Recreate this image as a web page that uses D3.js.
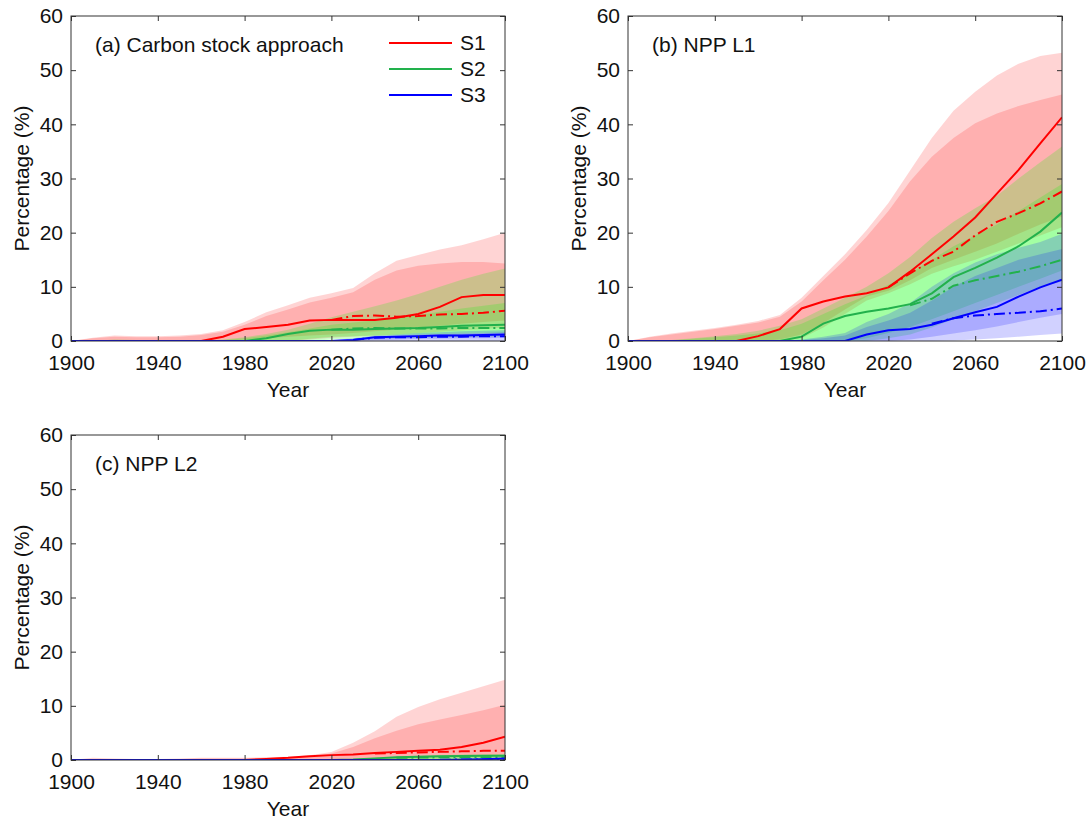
<!DOCTYPE html>
<html>
<head>
<meta charset="utf-8">
<script src="https://cdn.jsdelivr.net/npm/d3@7"></script>
<style>
  body { margin: 0; background: #fff; }
  svg text { font-family: "Liberation Sans", Arial, sans-serif; fill: #111; }
</style>
</head>
<body>
<svg id="chart" width="1091" height="820"></svg>
<script>
// years sampled every 10 years
const years = [1900, 1910, 1920, 1930, 1940, 1950, 1960, 1970, 1980, 1990, 2000,
               2010, 2020, 2030, 2040, 2050, 2060, 2070, 2080, 2090, 2100];
const xTicks = [1900, 1940, 1980, 2020, 2060, 2100];
const yTicks = [0, 10, 20, 30, 40, 50, 60];
const scenarioNames = ["S1", "S2", "S3"];

// (a) carbon stock approach
const aS1      = [0, 0, 0, 0, 0, 0, 0, 0.8, 2.2, 2.6, 3.0, 3.8, 3.9, 3.9, 3.9, 4.3, 5.0, 6.3, 8.1, 8.5, 8.5];
const aS1Dash  = [null, null, null, null, null, null, null, null, null, null, null, null, 3.9, 4.6, 4.7, 4.5, 4.6, 4.9, 5.0, 5.2, 5.6];
const aS1OutHi = [0, 0.6, 1.0, 0.9, 0.9, 1.0, 1.3, 2.0, 3.5, 5.3, 6.6, 8.0, 8.8, 9.8, 12.5, 14.8, 15.9, 16.9, 17.7, 18.8, 20.0];
const aS1InHi  = [0, 0.5, 0.8, 0.7, 0.7, 0.8, 1.1, 1.7, 3.0, 4.6, 5.8, 7.1, 8.0, 9.0, 11.3, 13.0, 13.9, 14.3, 14.6, 14.6, 14.3];
const aS1OutLo = [0, 0, 0, 0, 0, 0, 0, 0, 0, 0, 0, 0.3, 0.6, 0.8, 1.0, 1.2, 1.5, 1.7, 2.0, 2.2, 2.5];
const aS1InLo  = [0, 0, 0, 0, 0, 0, 0, 0, 0.3, 0.5, 0.8, 1.0, 1.2, 1.5, 1.8, 2.1, 2.5, 2.8, 3.2, 3.5, 3.8];
const aS2      = [0, 0, 0, 0, 0, 0, 0, 0, 0, 0.5, 1.3, 1.9, 2.1, 2.1, 2.2, 2.3, 2.4, 2.6, 2.8, 2.9, 3.0];
const aS2Dash  = [null, null, null, null, null, null, null, null, null, null, null, null, 2.1, 2.3, 2.4, 2.3, 2.3, 2.3, 2.4, 2.4, 2.4];
const aS2OutHi = [0, 0, 0.3, 0.2, 0, 0, 0.1, 0.3, 0.7, 1.3, 2.1, 3.2, 4.4, 5.4, 6.4, 7.5, 8.7, 10.0, 11.3, 12.4, 13.4];
const aS2InHi  = [0, 0, 0.2, 0.1, 0, 0, 0, 0.2, 0.5, 1.0, 1.6, 2.3, 3.0, 3.4, 3.8, 4.3, 4.8, 5.4, 6.0, 6.5, 7.0];
const aS2OutLo = [0, 0, 0, 0, 0, 0, 0, 0, 0, 0, 0, 0, 0.3, 0.4, 0.5, 0.5, 0.6, 0.7, 0.7, 0.8, 0.8];
const aS2InLo  = [0, 0, 0, 0, 0, 0, 0, 0, 0, 0, 0, 0.4, 0.8, 0.9, 1.0, 1.1, 1.2, 1.3, 1.4, 1.5, 1.5];
const aS3      = [0, 0, 0, 0, 0, 0, 0, 0, 0, 0, 0, 0, 0, 0.2, 0.7, 0.8, 0.9, 1.0, 1.0, 1.1, 1.2];
const aS3Dash  = [null, null, null, null, null, null, null, null, null, null, null, null, null, 0.2, 0.6, 0.7, 0.7, 0.8, 0.8, 0.9, 0.9];
const aS3OutHi = [0, 0, 0, 0, 0, 0, 0, 0, 0, 0, 0, 0, 0.2, 0.5, 1.0, 1.2, 1.5, 1.6, 1.8, 1.9, 2.0];
const aS3InHi  = [0, 0, 0, 0, 0, 0, 0, 0, 0, 0, 0, 0, 0.1, 0.4, 0.8, 1.0, 1.2, 1.3, 1.4, 1.5, 1.6];
const aS3OutLo = [0, 0, 0, 0, 0, 0, 0, 0, 0, 0, 0, 0, 0, 0, 0, 0, 0, 0, 0, 0, 0];
const aS3InLo  = [0, 0, 0, 0, 0, 0, 0, 0, 0, 0, 0, 0, 0, 0, 0.2, 0.3, 0.4, 0.4, 0.5, 0.5, 0.6];

// (b) NPP L1
const bS1      = [0, 0, 0, 0, 0, 0, 0.9, 2.2, 6.0, 7.3, 8.2, 8.8, 9.9, 12.8, 16.0, 19.3, 22.8, 27.2, 31.6, 36.5, 41.3];
const bS1Dash  = [null, null, null, null, null, null, null, null, null, null, null, null, 9.9, 12.5, 14.8, 16.5, 19.5, 22.0, 23.6, 25.4, 27.6];
const bS1OutHi = [0, 0.8, 1.4, 1.9, 2.4, 3.0, 3.7, 4.8, 8.0, 12.0, 16.0, 20.5, 25.5, 31.5, 37.5, 42.5, 46.0, 49.0, 51.2, 52.6, 53.2];
const bS1InHi  = [0, 0.7, 1.2, 1.7, 2.2, 2.8, 3.4, 4.5, 7.3, 11.2, 15.0, 19.3, 24.0, 29.5, 34.0, 37.5, 40.2, 42.0, 43.4, 44.5, 45.5];
const bS1OutLo = [0, 0, 0, 0, 0, 0, 0, 0, 0.5, 2.5, 5.0, 7.5, 8.8, 10.5, 12.4, 13.8, 15.0, 16.5, 18.0, 19.5, 21.0];
const bS1InLo  = [0, 0, 0, 0, 0, 0, 0, 0.3, 1.2, 3.3, 5.8, 8.2, 9.3, 11.2, 13.5, 15.0, 16.5, 18.0, 19.8, 21.5, 23.0];
const bS2      = [0, 0, 0, 0, 0, 0, 0, 0, 0.8, 3.2, 4.6, 5.4, 6.0, 6.8, 8.8, 11.8, 13.5, 15.4, 17.5, 20.2, 23.7];
const bS2Dash  = [null, null, null, null, null, null, null, null, null, null, null, null, null, 6.6, 7.8, 10.2, 11.2, 12.0, 12.8, 13.8, 15.0];
const bS2OutHi = [0, 0, 0.2, 0.5, 0.9, 1.3, 1.9, 2.8, 4.0, 6.0, 8.0, 10.0, 12.5, 15.5, 19.0, 22.0, 24.5, 26.8, 30.0, 33.0, 35.9];
const bS2InHi  = [0, 0, 0.1, 0.4, 0.7, 1.0, 1.4, 2.0, 3.2, 5.0, 6.8, 8.4, 10.4, 12.5, 15.0, 17.5, 19.5, 21.5, 24.0, 26.5, 29.0];
const bS2OutLo = [0, 0, 0, 0, 0, 0, 0, 0, 0, 0, 0, 0, 0.5, 1.2, 2.5, 4.0, 5.5, 7.0, 8.5, 10.0, 11.0];
const bS2InLo  = [0, 0, 0, 0, 0, 0, 0, 0, 0, 0, 0, 0.5, 1.5, 2.6, 4.0, 5.5, 7.0, 8.5, 10.0, 11.5, 13.0];
const bS3      = [0, 0, 0, 0, 0, 0, 0, 0, 0, 0, 0, 1.2, 2.0, 2.2, 3.0, 4.2, 5.3, 6.3, 8.2, 9.9, 11.3];
const bS3Dash  = [null, null, null, null, null, null, null, null, null, null, null, null, null, null, 3.2, 4.2, 4.7, 5.0, 5.2, 5.5, 6.0];
const bS3OutHi = [0, 0, 0, 0, 0, 0, 0, 0, 0.3, 0.8, 1.5, 3.5, 5.0, 7.0, 10.0, 12.5, 14.5, 16.0, 17.2, 18.3, 19.8];
const bS3InHi  = [0, 0, 0, 0, 0, 0, 0, 0, 0.2, 0.5, 1.0, 2.6, 3.8, 5.2, 7.5, 10.0, 12.0, 13.5, 15.0, 16.0, 17.0];
const bS3OutLo = [0, 0, 0, 0, 0, 0, 0, 0, 0, 0, 0, 0, 0, 0, 0, 0.1, 0.3, 0.5, 0.8, 1.1, 1.4];
const bS3InLo  = [0, 0, 0, 0, 0, 0, 0, 0, 0, 0, 0, 0, 0, 0.3, 0.8, 1.4, 2.0, 2.7, 3.5, 4.3, 5.0];

// (c) NPP L2
const cS1      = [0, 0, 0, 0, 0, 0, 0, 0, 0, 0.2, 0.4, 0.7, 0.9, 1.0, 1.3, 1.5, 1.7, 1.9, 2.4, 3.2, 4.3];
const cS1Dash  = [null, null, null, null, null, null, null, null, null, null, null, null, null, null, 1.2, 1.3, 1.4, 1.5, 1.6, 1.7, 1.7];
const cS1OutHi = [0, 0.4, 0.3, 0.2, 0.2, 0.3, 0.4, 0.4, 0.4, 0.5, 0.6, 0.9, 1.5, 3.2, 5.3, 8.0, 9.8, 11.2, 12.4, 13.6, 14.8];
const cS1InHi  = [0, 0.2, 0.2, 0.1, 0.1, 0.2, 0.3, 0.3, 0.3, 0.4, 0.5, 0.7, 1.2, 2.4, 4.0, 5.4, 6.6, 7.5, 8.3, 9.2, 10.2];
const cS1OutLo = [0, 0, 0, 0, 0, 0, 0, 0, 0, 0, 0, 0, 0, 0, 0, 0, 0, 0, 0, 0, 0];
const cS1InLo  = [0, 0, 0, 0, 0, 0, 0, 0, 0, 0, 0, 0, 0, 0, 0, 0.2, 0.4, 0.5, 0.7, 0.8, 1.0];
const cS2      = [0, 0, 0, 0, 0, 0, 0, 0, 0, 0, 0, 0, 0, 0.1, 0.3, 0.5, 0.6, 0.7, 0.75, 0.8, 0.8];
const cS2Dash  = [null, null, null, null, null, null, null, null, null, null, null, null, null, null, null, 0.4, 0.45, 0.5, 0.5, 0.5, 0.5];
const cS2OutHi = [0, 0, 0, 0, 0, 0, 0, 0, 0, 0, 0, 0, 0.1, 0.2, 0.4, 0.6, 0.8, 0.9, 1.0, 1.0, 1.1];
const cS2InHi  = [0, 0, 0, 0, 0, 0, 0, 0, 0, 0, 0, 0, 0.05, 0.15, 0.35, 0.5, 0.7, 0.8, 0.85, 0.9, 0.95];
const cS2OutLo = [0, 0, 0, 0, 0, 0, 0, 0, 0, 0, 0, 0, 0, 0, 0, 0, 0, 0, 0, 0, 0];
const cS2InLo  = [0, 0, 0, 0, 0, 0, 0, 0, 0, 0, 0, 0, 0, 0, 0, 0, 0, 0, 0, 0, 0];
const cS3      = [0, 0, 0, 0, 0, 0, 0, 0, 0, 0, 0, 0, 0, 0, 0, 0, 0, 0, 0.05, 0.15, 0.3];
const cS3Dash  = [null, null, null, null, null, null, null, null, null, null, null, null, null, null, null, null, null, 0.05, 0.08, 0.1, 0.1];
const cS3OutHi = [0, 0, 0, 0, 0, 0, 0, 0, 0, 0, 0, 0, 0, 0, 0, 0, 0, 0.1, 0.2, 0.3, 0.4];
const cS3InHi  = [0, 0, 0, 0, 0, 0, 0, 0, 0, 0, 0, 0, 0, 0, 0, 0, 0, 0.05, 0.15, 0.25, 0.35];
const cS3OutLo = [0, 0, 0, 0, 0, 0, 0, 0, 0, 0, 0, 0, 0, 0, 0, 0, 0, 0, 0, 0, 0];
const cS3InLo  = [0, 0, 0, 0, 0, 0, 0, 0, 0, 0, 0, 0, 0, 0, 0, 0, 0, 0, 0, 0, 0];

const lineColors = ["#ff0000", "#22b14c", "#0000ff"];
const bandColors = ["#ff0000", "#00ff00", "#0000ff"];
const bandOpacity = [0.17, 0.2, 0.18];

const panels = [
  {title: "(a) Carbon stock approach", left: 71, top: 16, legend: true, series: [
    {mid: aS1, dash: aS1Dash, outLo: aS1OutLo, outHi: aS1OutHi, inLo: aS1InLo, inHi: aS1InHi},
    {mid: aS2, dash: aS2Dash, outLo: aS2OutLo, outHi: aS2OutHi, inLo: aS2InLo, inHi: aS2InHi},
    {mid: aS3, dash: aS3Dash, outLo: aS3OutLo, outHi: aS3OutHi, inLo: aS3InLo, inHi: aS3InHi}]},
  {title: "(b) NPP L1", left: 628, top: 16, legend: false, series: [
    {mid: bS1, dash: bS1Dash, outLo: bS1OutLo, outHi: bS1OutHi, inLo: bS1InLo, inHi: bS1InHi},
    {mid: bS2, dash: bS2Dash, outLo: bS2OutLo, outHi: bS2OutHi, inLo: bS2InLo, inHi: bS2InHi},
    {mid: bS3, dash: bS3Dash, outLo: bS3OutLo, outHi: bS3OutHi, inLo: bS3InLo, inHi: bS3InHi}]},
  {title: "(c) NPP L2", left: 71, top: 435, legend: false, series: [
    {mid: cS1, dash: cS1Dash, outLo: cS1OutLo, outHi: cS1OutHi, inLo: cS1InLo, inHi: cS1InHi},
    {mid: cS2, dash: cS2Dash, outLo: cS2OutLo, outHi: cS2OutHi, inLo: cS2InLo, inHi: cS2InHi},
    {mid: cS3, dash: cS3Dash, outLo: cS3OutLo, outHi: cS3OutHi, inLo: cS3InLo, inHi: cS3InHi}]}
];

const svg = d3.select("#chart");
const width = 434, height = 325;
const fontSize = 21;

function drawPanel(p, i) {
  const g = svg.append("g").attr("transform", `translate(${p.left},${p.top})`);
  const x = d3.scaleLinear().domain([1900, 2100]).range([0, width]);
  const y = d3.scaleLinear().domain([0, 60]).range([height, 0]);

  g.append("clipPath").attr("id", "clip" + i)
    .append("rect").attr("width", width).attr("height", height);
  const plot = g.append("g").attr("clip-path", `url(#clip${i})`);

  // uncertainty bands: outer then inner for each scenario
  p.series.forEach((s, k) => {
    [[s.outLo, s.outHi], [s.inLo, s.inHi]].forEach(([lo, hi]) => {
      const area = d3.area()
        .x((d, j) => x(years[j]))
        .y0((d, j) => y(lo[j]))
        .y1(d => y(d));
      plot.append("path").datum(hi)
        .attr("d", area)
        .attr("fill", bandColors[k])
        .attr("fill-opacity", bandOpacity[k]);
    });
  });

  const line = d3.line()
    .defined(d => d != null)
    .x((d, j) => x(years[j]))
    .y(d => y(d));

  p.series.forEach((s, k) => {
    plot.append("path").datum(s.dash)
      .attr("d", line)
      .attr("fill", "none")
      .attr("stroke", lineColors[k])
      .attr("stroke-width", 2)
      .attr("stroke-dasharray", "11,4,2,4");
    plot.append("path").datum(s.mid)
      .attr("d", line)
      .attr("fill", "none")
      .attr("stroke", lineColors[k])
      .attr("stroke-width", 2);
  });

  // axes with inward ticks on all four sides
  const axes = [
    [d3.axisBottom(x).tickValues(xTicks).tickFormat(d3.format("d")).tickPadding(14), `translate(0,${height})`],
    [d3.axisTop(x).tickValues(xTicks).tickFormat(""), "translate(0,0)"],
    [d3.axisLeft(y).tickValues(yTicks).tickPadding(8), "translate(0,0)"],
    [d3.axisRight(y).tickValues(yTicks).tickFormat(""), `translate(${width},0)`]
  ];
  axes.forEach(([ax, tr]) => {
    const a = g.append("g").attr("transform", tr)
      .call(ax.tickSizeInner(-5).tickSizeOuter(0));
    a.select(".domain").remove();
    a.selectAll("line").attr("stroke", "#333");
    a.selectAll("text")
      .attr("font-size", fontSize)
      .attr("font-family", "Liberation Sans, Arial, sans-serif")
      .attr("fill", "#111");
  });

  g.append("rect")
    .attr("width", width).attr("height", height)
    .attr("fill", "none").attr("stroke", "#333").attr("stroke-width", 1);

  g.append("text")
    .attr("x", 24).attr("y", 36)
    .attr("font-size", fontSize)
    .text(p.title);

  g.append("text")
    .attr("x", width / 2).attr("y", height + 56)
    .attr("text-anchor", "middle")
    .attr("font-size", fontSize)
    .text("Year");

  g.append("text")
    .attr("transform", `translate(-42,${height / 2}) rotate(-90)`)
    .attr("text-anchor", "middle")
    .attr("font-size", fontSize)
    .text("Percentage (%)");

  if (p.legend) {
    const lg = g.append("g").attr("transform", "translate(318,27)");
    scenarioNames.forEach((name, k) => {
      lg.append("line")
        .attr("x1", 0).attr("x2", 63)
        .attr("y1", k * 26).attr("y2", k * 26)
        .attr("stroke", lineColors[k]).attr("stroke-width", 2);
      lg.append("text")
        .attr("x", 71).attr("y", k * 26)
        .attr("dy", "0.35em")
        .attr("font-size", fontSize)
        .text(name);
    });
  }
}

panels.forEach(drawPanel);
</script>
</body>
</html>
